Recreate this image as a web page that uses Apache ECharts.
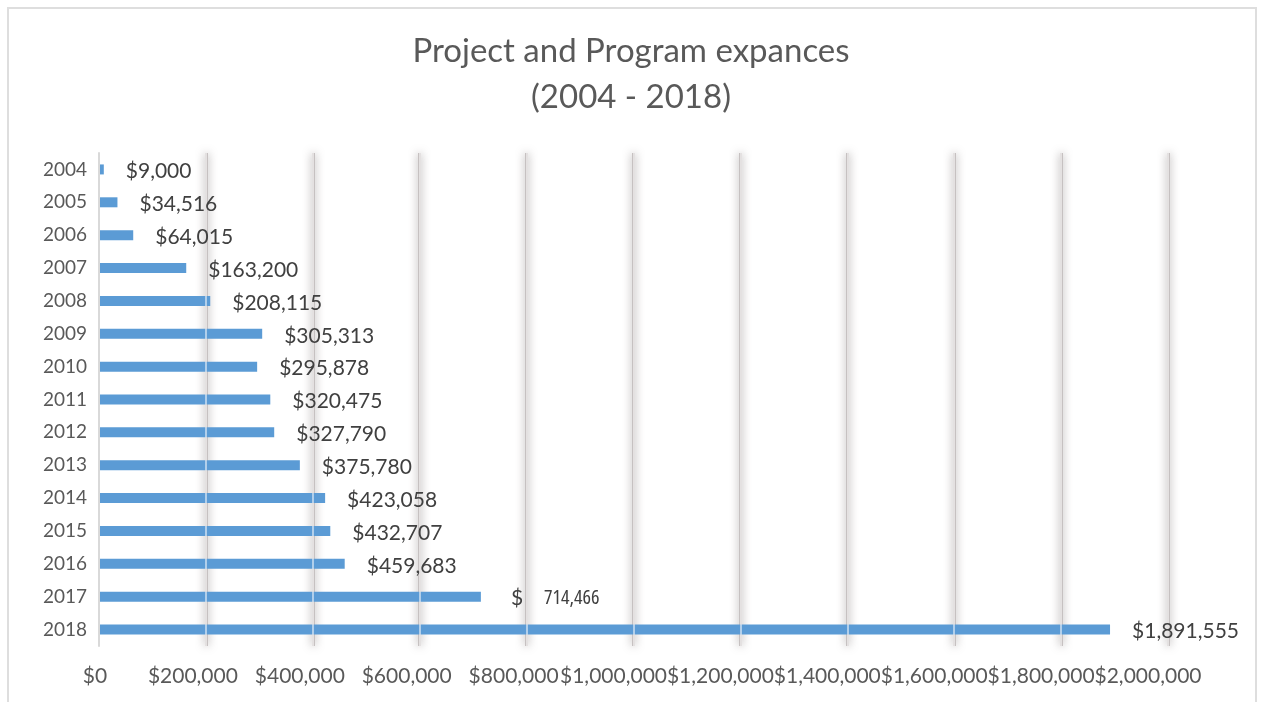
<!DOCTYPE html>
<html>
<head>
<meta charset="utf-8">
<title>Project and Program expances</title>
<script src="https://cdn.jsdelivr.net/npm/echarts@6/dist/echarts.min.js"></script>
<style>
  html, body { margin: 0; padding: 0; background: #ffffff; }
  #chart { width: 1262px; height: 702px; }
</style>
</head>
<body>
<div id="chart"></div>
<script>
// Yearly project and program spending
const years = ['2004', '2005', '2006', '2007', '2008', '2009', '2010', '2011',
               '2012', '2013', '2014', '2015', '2016', '2017', '2018'];
const expenses = [9000, 34516, 64015, 163200, 208115, 305313, 295878, 320475,
                  327790, 375780, 423058, 432707, 459683, 714466, 1891555];
// Years whose label uses the accounting layout ("$   714,466")
const accountingYears = ['2017'];

const axisMin = 0;
const axisMax = 2000000;
const axisStep = 200000;

const fmt = v => v.toLocaleString('en-US');

// Tick label style: the wider millions labels lean further left
const tickStyle = v => v === 0 ? 'z' : (v < 1000000 ? 't' : 'm');

const chart = echarts.init(document.getElementById('chart'), null, { renderer: 'canvas' });

const tickText = { fontFamily: 'Lato', fontSize: 21, color: '#595959' };

chart.setOption({
  backgroundColor: '#ffffff',
  animation: false,
  title: {
    text: 'Project and Program expances\n(2004 - 2018)',
    left: 'center',
    top: 28,
    padding: 0,
    textStyle: {
      fontFamily: 'Lato',
      fontSize: 33,
      fontWeight: 'normal',
      color: '#595959',
      lineHeight: 46
    }
  },
  graphic: [{
    type: 'rect',
    silent: true,
    z: -1,
    shape: { x: 8, y: 8, width: 1248, height: 720 },
    style: { fill: 'none', stroke: '#dedede', lineWidth: 2 }
  }],
  grid: { left: 99, right: 94, top: 153, bottom: 56 },
  xAxis: [{
    type: 'value',
    min: axisMin,
    max: axisMax,
    interval: axisStep,
    axisLine: { show: false },
    axisTick: { show: false },
    axisLabel: {
      margin: 20,
      ...tickText,
      formatter: v => '{' + tickStyle(v) + '|$' + fmt(v) + '}',
      rich: {
        z: { ...tickText, padding: [0, 8, 0, 0] },
        t: { ...tickText, padding: [0, 26, 0, 0] },
        m: { ...tickText, padding: [0, 40, 0, 0] }
      }
    },
    splitLine: {
      show: true,
      showMinLine: false,
      lineStyle: {
        color: '#c6c1c1',
        width: 3,
        shadowBlur: 8,
        shadowColor: 'rgba(90,80,80,0.6)'
      }
    }
  }, {
    // thin light cores of the gridlines, drawn over the bars
    type: 'value',
    min: axisMin,
    max: axisMax,
    interval: axisStep,
    z: 5,
    axisLine: { show: false },
    axisTick: { show: false },
    axisLabel: { show: false },
    splitLine: {
      show: true,
      showMinLine: false,
      lineStyle: { color: 'rgba(255,255,255,0.7)', width: 1.5 }
    }
  }],
  yAxis: {
    type: 'category',
    data: years,
    inverse: true,
    z: 6,
    axisLine: { show: true, lineStyle: { color: '#d9d9d9', width: 2 } },
    axisTick: { show: false },
    axisLabel: {
      margin: 12,
      fontFamily: 'Lato',
      fontSize: 19,
      color: '#595959'
    }
  },
  series: [{
    type: 'bar',
    data: expenses,
    xAxisIndex: 0,
    barWidth: 10,
    z: 2,
    itemStyle: { color: '#5b9bd5' }
  }, {
    // value labels, kept above the gridlines
    type: 'bar',
    data: expenses,
    xAxisIndex: 0,
    barWidth: 10,
    barGap: '-100%',
    z: 10,
    silent: true,
    itemStyle: { color: 'rgba(0,0,0,0)' },
    label: {
      show: true,
      position: 'right',
      distance: 22,
      offset: [0, 2],
      fontFamily: 'Lato',
      fontSize: 21,
      color: '#404040',
      formatter: p => accountingYears.includes(p.name)
        ? '{d|$}{n|' + fmt(p.value) + '}'
        : '$' + fmt(p.value),
      rich: {
        d: { fontFamily: 'Lato', fontSize: 21, color: '#404040', padding: [0, 21, 0, 8] },
        n: { fontFamily: '"Open Sans"', fontWeight: 'condensed', fontSize: 20, color: '#404040' }
      }
    }
  }]
});
</script>
</body>
</html>
